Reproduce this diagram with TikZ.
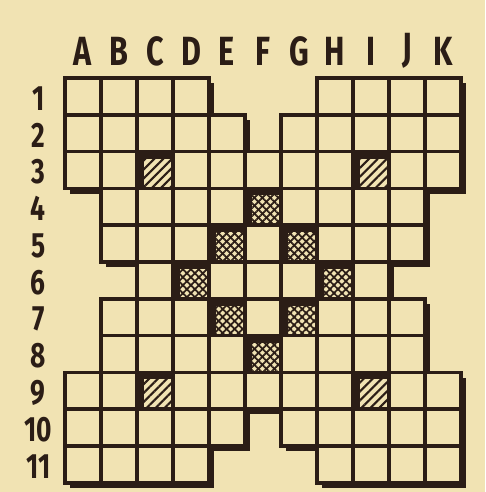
\documentclass[tikz,border=0pt]{standalone}
\usepackage{fontspec}
\usetikzlibrary{patterns.meta}
\newfontfamily\gridfont[FakeStretch=0.75]{Fira Sans}
\definecolor{paper}{HTML}{F1E3B3}
\definecolor{ink}{HTML}{2B1D16}

\begin{document}
\begin{tikzpicture}[
    x=3.6mm, y=-3.68mm,
    cell/.style={draw=ink, line width=1pt, fill=paper},
    edge/.style={draw=ink, line width=1pt},
    shade/.style={fill=ink},
    hatch/.style={pattern={Lines[angle=45,distance=1.8pt,line width=0.6pt]}, pattern color=ink},
    crossa/.style={pattern={Lines[angle=45,distance=1.6pt,line width=0.5pt]}, pattern color=ink},
    crossb/.style={pattern={Lines[angle=-45,distance=1.6pt,line width=0.5pt]}, pattern color=ink},
    collabel/.style={font=\gridfont\bfseries\fontsize{11.6}{12}\selectfont, text=ink, inner sep=0pt},
    rowlabel/.style={font=\gridfont\bfseries\fontsize{10}{11}\selectfont, text=ink, inner sep=0pt}
]
    \fill[paper] (-1.806,-2.12) rectangle (11.667,11.25);
    \useasboundingbox (-1.806,-2.12) rectangle (11.667,11.25);

    % drop shadow of the whole grid
    \foreach \r/\cs in {1/{1,2,3,4,8,9,10,11}, 2/{1,2,3,4,5,7,8,9,10,11}, 3/{1,...,11},
                        4/{2,...,10}, 5/{2,...,10}, 6/{3,...,9}, 7/{2,...,10},
                        8/{2,...,10}, 9/{1,...,11}, 10/{1,2,3,4,5,7,8,9,10,11},
                        11/{1,2,3,4,8,9,10,11}} {
        \foreach \c in \cs
            \fill[shade] ({\c-1+0.15},{\r-1+0.14}) rectangle ({\c+0.15},{\r+0.14});
    }
    % the cells
    \foreach \r/\cs in {1/{1,2,3,4,8,9,10,11}, 2/{1,2,3,4,5,7,8,9,10,11}, 3/{1,...,11},
                        4/{2,...,10}, 5/{2,...,10}, 6/{3,...,9}, 7/{2,...,10},
                        8/{2,...,10}, 9/{1,...,11}, 10/{1,2,3,4,5,7,8,9,10,11},
                        11/{1,2,3,4,8,9,10,11}} {
        \foreach \c in \cs
            \draw[cell] ({\c-1},{\r-1}) rectangle (\c,\r);
    }

    % hatched squares
    \foreach \c/\r in {3/3, 9/3, 3/9, 9/9} {
        \fill[shade] ({\c-1},{\r-1}) rectangle (\c,\r);
        \fill[paper] ({\c-1+0.19},{\r-1+0.19}) rectangle (\c,\r);
        \fill[hatch] ({\c-1+0.19},{\r-1+0.19}) rectangle (\c,\r);
        \draw[edge] ({\c-1},{\r-1}) rectangle (\c,\r);
    }
    % cross-hatched squares
    \foreach \c/\r in {6/4, 5/5, 7/5, 4/6, 8/6, 5/7, 7/7, 6/8} {
        \fill[shade] ({\c-1},{\r-1}) rectangle (\c,\r);
        \fill[paper] ({\c-1+0.19},{\r-1+0.19}) rectangle (\c,\r);
        \fill[crossa] ({\c-1+0.19},{\r-1+0.19}) rectangle (\c,\r);
        \fill[crossb] ({\c-1+0.19},{\r-1+0.19}) rectangle (\c,\r);
        \draw[edge] ({\c-1},{\r-1}) rectangle (\c,\r);
    }

    % labels
    \foreach \l [count=\i] in {A,B,C,D,E,F,G,H,I,J,K}
        \node[collabel] (col-\l) at ({\i-0.5},-0.73) {\l};
    \foreach \r in {1,...,11}
        \node[rowlabel] (row-\r) at (-0.74,{\r-0.45}) {\r};
\end{tikzpicture}
\end{document}
